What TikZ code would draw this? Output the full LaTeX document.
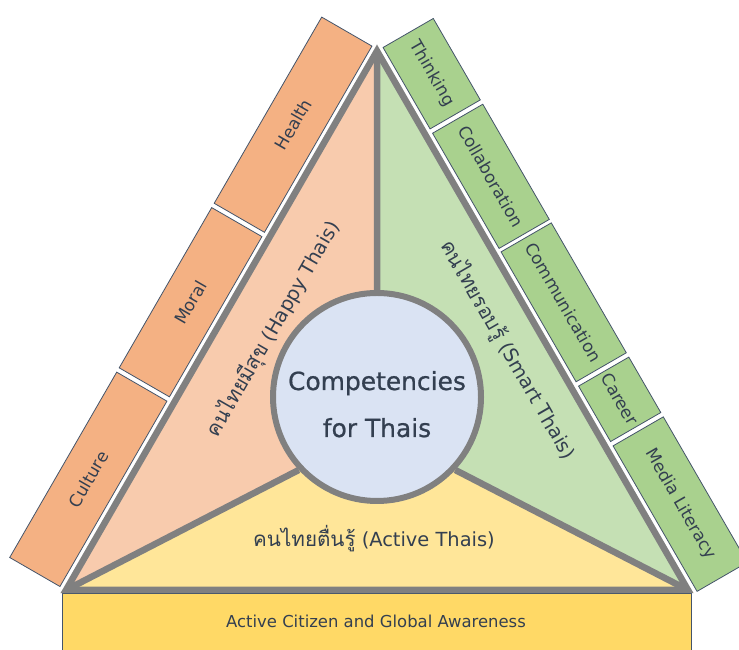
\documentclass[tikz,border=0pt]{standalone}
\usepackage{fontspec}
\setmainfont{DejaVu Sans}
\newfontfamily\thaifont[Script=Thai,Scale=1.06]{Loma}
\newfontfamily\corefont[FakeBold=0.8]{DejaVu Sans}
\usetikzlibrary{positioning}
\definecolor{edgegray}{HTML}{808080}
\definecolor{boxline}{HTML}{44546A}
\definecolor{labeltext}{HTML}{333F50}
\definecolor{happybox}{HTML}{F4B183}
\definecolor{happyfill}{HTML}{F8CBAD}
\definecolor{smartbox}{HTML}{A9D18E}
\definecolor{smartfill}{HTML}{C5E0B4}
\definecolor{activefill}{HTML}{FFE699}
\definecolor{citizenbar}{HTML}{FFD966}
\definecolor{corefill}{HTML}{DAE3F3}
\tikzset{
  every picture/.style = {
    x = 1bp,
    y = 1bp,
  }
  ,
  tri-line/.style = {
    draw = edgegray,
    line width = 6.5bp,
    line join = miter
  }
  ,
  core/.style = {
    circle,
    fill = corefill,
    draw = edgegray,
    line width = 6bp,
    minimum size = 208bp,
    inner sep = 0pt
  }
  , % boxes along the sides
  side-box/.style = {
    rectangle,
    draw = boxline,
    line width = 0.8bp,
    minimum height = 58bp,
    inner sep = 0pt,
    transform shape,
    text = labeltext,
    font = \fontsize{17}{19}\selectfont
  }
  ,
  happy-box/.style = {side-box, fill = happybox},
  smart-box/.style = {side-box, fill = smartbox},
  % labels of the three parts
  part-label/.style = {
    text = labeltext,
    font = \fontsize{19.5}{22}\selectfont,
    inner sep = 0pt
  }
  ,
  core-label/.style = {
    text = labeltext,
    font = \corefont\fontsize{25}{28}\selectfont,
    inner sep = 0pt,
    anchor = base
  }
}

\begin{document}
\begin{tikzpicture}
\useasboundingbox (0,0) rectangle (739,650);
\clip (0,0) rectangle (739,650);
\coordinate (B) at (66,60);
\coordinate (C) at (688,60);
\coordinate (A) at (377,599);
\coordinate (O) at (377,253);

% bottom bar
\draw[fill = citizenbar, draw = boxline, line width = 0.8bp] (62,-5) rectangle (691,57);
\node[part-label, font = \fontsize{16.5}{18}\selectfont, anchor = base] (citizen) at (376,22) {Active Citizen and Global Awareness};

% the three parts
\fill[happyfill] (B) -- (A) -- (O) -- ([shift={(223:104)}]O) -- cycle;
\fill[smartfill] (A) -- (C) -- ([shift={(317:104)}]O) -- (O) -- cycle;
\fill[activefill] (B) -- (C) -- ([shift={(317:104)}]O) -- (O) -- ([shift={(223:104)}]O) -- cycle;

\node[core] (core) at (O) {};
\node[core-label] (comp) at (377,260) {Competencies};
\node[core-label] (for-thais) at (377,213) {for Thais};

\draw[tri-line] (B) -- (core.223)
                (C) -- (core.317)
                (A) -- (core.north);
\draw[tri-line] (B) -- (A) -- (C) -- cycle;

\node[part-label, rotate = 60] (happy) at (273,321) {{\thaifont คนไทยมีสุข} (Happy Thais)};
\node[part-label, rotate = -60] (smart) at (508,300) {{\thaifont คนไทยรอบรู้} (Smart Thais)};
\node[part-label, anchor = base] (active) at (374,103) {{\thaifont คนไทยตื่นรู้} (Active Thais)};

% left side
\begin{scope}[shift = {(B)}, rotate = 60]
  \node[happy-box, minimum width = 214bp] (culture) at (107,36) {Culture};
  \node[happy-box, minimum width = 185bp] (moral) at (311.5,36) {Moral};
  \node[happy-box, minimum width = 215bp] (health) at (516.5,36) {Health};
\end{scope}

% right side
\begin{scope}[shift = {(A)}, rotate = -60]
  \node[smart-box, minimum width = 94bp] (thinking) at (47,36) {Thinking};
  \node[smart-box, minimum width = 133bp] (collab) at (165.5,36) {Collaboration};
  \node[smart-box, minimum width = 150bp] (commun) at (311,36) {Communication};
  \node[smart-box, minimum width = 64bp] (career) at (423,36) {Career};
  \node[smart-box, minimum width = 168bp] (media) at (544,36) {Media Literacy};
\end{scope}
\end{tikzpicture}
\end{document}
